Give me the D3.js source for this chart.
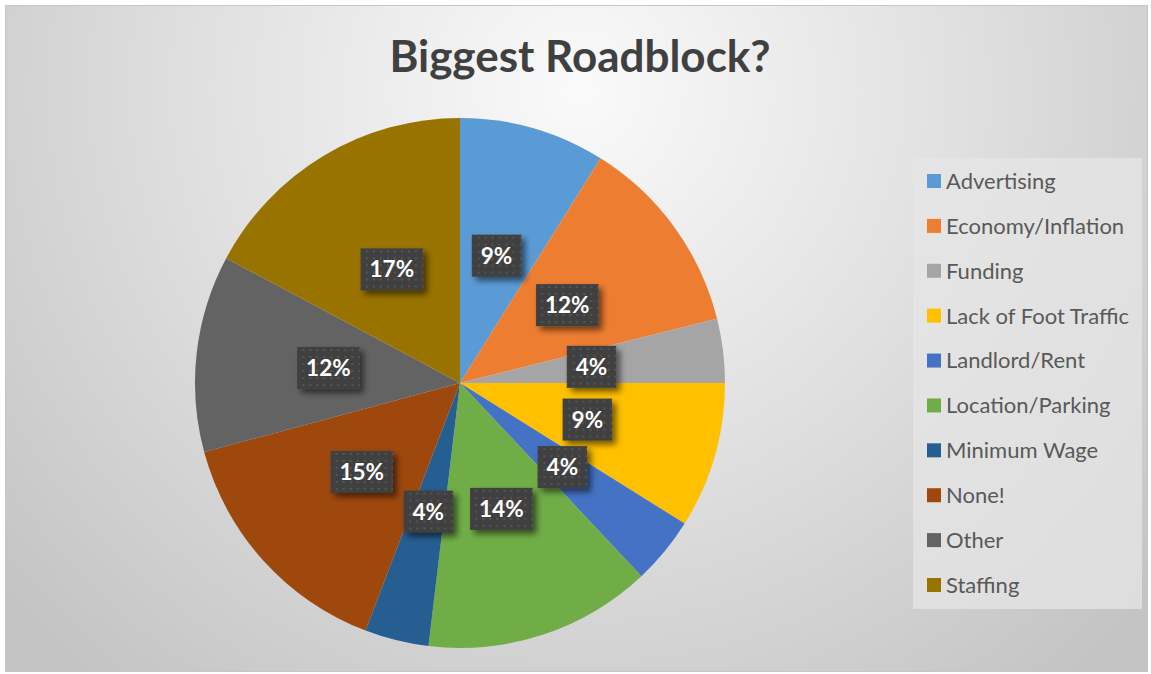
<!DOCTYPE html>
<html>
<head>
<meta charset="utf-8">
<script src="https://cdn.jsdelivr.net/npm/d3@7/dist/d3.min.js"></script>
<style>
  body { margin: 0; background: #fff; }
  svg { display: block; }
  text { font-family: Lato, "Open Sans", sans-serif; }
</style>
</head>
<body>
<div id="chart"></div>
<script>
// survey answers (shares in percent)
var categories = ["Advertising", "Economy/Inflation", "Funding", "Lack of Foot Traffic", "Landlord/Rent",
  "Location/Parking", "Minimum Wage", "None!", "Other", "Staffing"];
var shares = [8.9, 12.2, 3.9, 8.9, 4.1, 13.9, 3.9, 15.0, 12.0, 17.2];
var colors = ["#5b9bd5", "#ed7d31", "#a5a5a5", "#ffc000", "#4472c4",
  "#70ad47", "#255e91", "#9e480e", "#636363", "#997300"];
var title = "Biggest Roadblock?";

var svg_width = 1151, svg_height = 674;
var cx = 460, cy = 383, radius = 265;

var svg = d3.select("#chart").append("svg")
  .attr("width", svg_width)
  .attr("height", svg_height);

var defs = svg.append("defs");

// background gradient, light near the title, grey at corners
var bg = defs.append("radialGradient")
  .attr("id", "bg")
  .attr("gradientUnits", "userSpaceOnUse")
  .attr("cx", 580).attr("cy", 90).attr("r", 760);
bg.append("stop").attr("offset", "0%").attr("stop-color", "#fafafa");
bg.append("stop").attr("offset", "50%").attr("stop-color", "#e0e0e0");
bg.append("stop").attr("offset", "100%").attr("stop-color", "#c4c4c4");

// dotted fill for the data labels
var pat = defs.append("pattern")
  .attr("id", "dots")
  .attr("patternUnits", "userSpaceOnUse")
  .attr("width", 7).attr("height", 7);
pat.append("rect").attr("width", 7).attr("height", 7).attr("fill", "#404040");
pat.append("rect").attr("x", 2).attr("y", 2).attr("width", 2).attr("height", 2).attr("fill", "#555555");

var shadow = defs.append("filter").attr("id", "shadow")
  .attr("x", "-30%").attr("y", "-30%").attr("width", "170%").attr("height", "180%");
shadow.append("feGaussianBlur").attr("in", "SourceAlpha").attr("stdDeviation", 3);
shadow.append("feOffset").attr("dx", 4).attr("dy", 4).attr("result", "off");
shadow.append("feComponentTransfer").append("feFuncA").attr("type", "linear").attr("slope", 0.55);
var merge = shadow.append("feMerge");
merge.append("feMergeNode");
merge.append("feMergeNode").attr("in", "SourceGraphic");

svg.append("rect")
  .attr("x", 5.5).attr("y", 5.5)
  .attr("width", 1142).attr("height", 666)
  .attr("fill", "url(#bg)")
  .attr("stroke", "#c6c6c6");

svg.append("text")
  .attr("x", 580).attr("y", 72)
  .attr("text-anchor", "middle")
  .attr("font-size", 44)
  .attr("font-weight", "bold")
  .attr("fill", "#404040")
  .text(title);

// pie
var pie = d3.pie().sort(null).value(function(d) { return d; });
var arcs = pie(shares);
var arc = d3.arc().innerRadius(0).outerRadius(radius);

var g = svg.append("g").attr("transform", "translate(" + cx + "," + cy + ")");

g.selectAll("path.slice")
  .data(arcs)
  .enter()
  .append("path")
  .attr("class", "slice")
  .attr("d", arc)
  .attr("fill", function(d, i) { return colors[i]; });

var total = d3.sum(shares);
var labels = g.selectAll("g.lbl")
  .data(arcs)
  .enter()
  .append("g")
  .attr("class", "lbl")
  .attr("transform", function(d) { return "translate(" + arc.centroid(d) + ")"; });

labels.each(function(d) {
  var el = d3.select(this);
  var txt = Math.round(d.value / total * 100) + "%";
  var t = el.append("text")
    .attr("text-anchor", "middle")
    .attr("dy", "0.36em")
    .attr("font-size", 22.5)
    .attr("font-weight", "bold")
    .attr("fill", "#ffffff")
    .text(txt);
  var w = t.node().getComputedTextLength() + 18;
  el.insert("rect", "text")
    .attr("x", -w / 2).attr("y", -21)
    .attr("width", w).attr("height", 42)
    .attr("fill", "url(#dots)")
    .attr("filter", "url(#shadow)");
});

// legend
var legend = svg.append("g");
legend.append("rect")
  .attr("x", 913).attr("y", 158)
  .attr("width", 229).attr("height", 451)
  .attr("fill", "#e6e6e6")
  .attr("fill-opacity", 0.75);

var ly = d3.scalePoint().domain(categories).range([181, 585]);

var items = legend.selectAll("g.item")
  .data(categories)
  .enter()
  .append("g")
  .attr("class", "item")
  .attr("transform", function(d) { return "translate(927," + ly(d) + ")"; });

items.append("rect")
  .attr("x", 0).attr("y", -7)
  .attr("width", 14).attr("height", 14)
  .attr("fill", function(d, i) { return colors[i]; });

items.append("text")
  .attr("x", 19).attr("dy", "0.36em")
  .attr("font-size", 22)
  .attr("fill", "#595959")
  .text(function(d) { return d; });
</script>
</body>
</html>
